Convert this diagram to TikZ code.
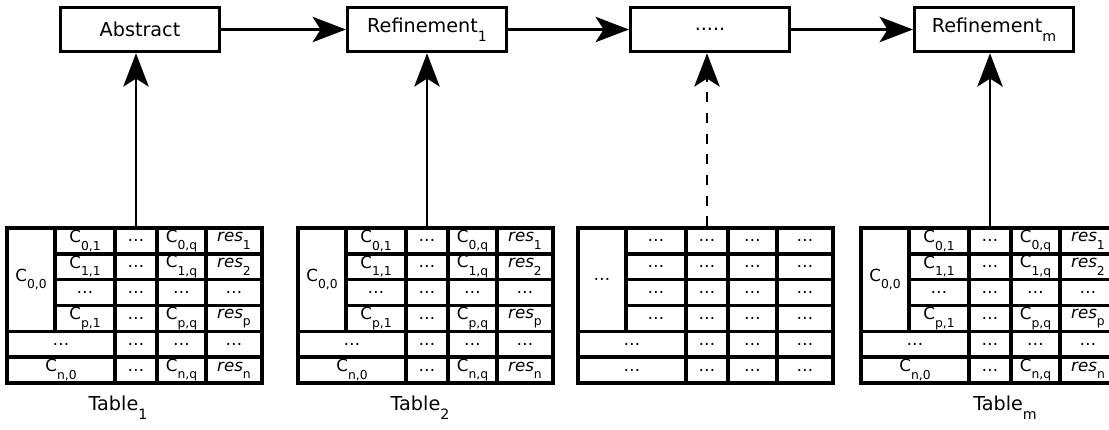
\documentclass[tikz,border=0pt]{standalone}
\usepackage{fontspec}
\setmainfont{DejaVu Sans}
\usetikzlibrary{arrows.meta}
\newcommand{\lowsub}[1]{\raisebox{-0.45em}{\scalebox{0.74}{#1}}}

\begin{document}
\begin{tikzpicture}[x=0.75pt, y=-0.75pt,
    box/.style={draw, line width=2.6pt, minimum width=119pt, minimum height=33pt, inner sep=0pt, font=\fontsize{14.4}{16}\selectfont},
    cell/.style={draw, line width=2.6pt, inner sep=0pt, minimum height=19.375pt, font=\fontsize{12.5}{14}\selectfont},
    tip/.style={line width=2pt, -{Stealth[length=25pt, width=19pt, inset=6pt]}}]
\useasboundingbox (0,0) rectangle (1109,429);

    \node[box] (1) at (140,29.5) {Abstract};
    \node[box] (2) at (427,29.5) {Refinement\lowsub{1}};
    \node[box] (3) at (710,29.5) {.....};
    \node[box] (4) at (994,29.5) {Refinement\lowsub{m}};

\foreach \t/\lx in {1/7, 2/298, 4/861} {
    \node[cell, minimum width=36pt, minimum height=77.5pt] at (\lx+24,279.67) {C\lowsub{0,0}};
    \foreach \r/\a/\e in {0/0/1, 1/1/2, 3/p/p} {
      \node[cell, minimum width=45pt] at (\lx+78,240.92+25.83*\r) {C\lowsub{\a,1}};
      \node[cell, minimum width=36.75pt] at (\lx+174.5,240.92+25.83*\r) {C\lowsub{\a,q}};
      \node[cell, minimum width=42pt] at (\lx+227,240.92+25.83*\r) {\textit{res}\lowsub{\e}};
    }
    \foreach \r in {0,...,3}
      \node[cell, minimum width=31.5pt] (c\t-\r) at (\lx+129,240.92+25.83*\r) {…};
    \node[cell, minimum width=45pt] at (\lx+78,292.58) {…};
    \node[cell, minimum width=36.75pt] at (\lx+174.5,292.58) {…};
    \node[cell, minimum width=42pt] at (\lx+227,292.58) {…};
    \foreach \r in {4,5}
      \node[cell, minimum width=31.5pt] at (\lx+129,240.92+25.83*\r) {…};
    \node[cell, minimum width=81pt] at (\lx+54,344.25) {…};
    \node[cell, minimum width=36.75pt] at (\lx+174.5,344.25) {…};
    \node[cell, minimum width=42pt] at (\lx+227,344.25) {…};
    \node[cell, minimum width=81pt] at (\lx+54,370.08) {C\lowsub{n,0}};
    \node[cell, minimum width=36.75pt] at (\lx+174.5,370.08) {C\lowsub{n,q}};
    \node[cell, minimum width=42pt] at (\lx+227,370.08) {\textit{res}\lowsub{n}};
}

    \node[cell, minimum width=36pt, minimum height=77.5pt] at (602,279.67) {…};
\foreach \r in {0,...,3}
  \foreach \c/\w in {78/45, 129/31.5, 174.5/36.75, 227/42}
    \node[cell, minimum width=\w pt] (c3-\r-\c) at (578+\c,240.92+25.83*\r) {…};
\foreach \r in {4,5} {
    \node[cell, minimum width=81pt] at (632,240.92+25.83*\r) {…};
  \foreach \c/\w in {129/31.5, 174.5/36.75, 227/42}
    \node[cell, minimum width=\w pt] at (578+\c,240.92+25.83*\r) {…};
}

    \node[font=\fontsize{14.4}{16}\selectfont] (l1) at (118,408) {Table\lowsub{1}};
    \node[font=\fontsize{14.4}{16}\selectfont] (l2) at (420,408) {Table\lowsub{2}};
    \node[font=\fontsize{14.4}{16}\selectfont] (l4) at (1005,408) {Table\lowsub{m}};

    \draw[tip] (1) -- (2);
    \draw[tip] (2) -- (3);
    \draw[tip] (3) -- (4);
    \draw[tip] (c1-0.north) -- (c1-0.north |- 1.south);
    \draw[tip] (c2-0.north) -- (c2-0.north |- 2.south);
    \draw[tip, dash pattern=on 7.5pt off 8pt] (c3-0-129.north) -- (c3-0-129.north |- 3.south);
    \draw[tip] (c4-0.north) -- (c4-0.north |- 4.south);
\end{tikzpicture}
\end{document}
